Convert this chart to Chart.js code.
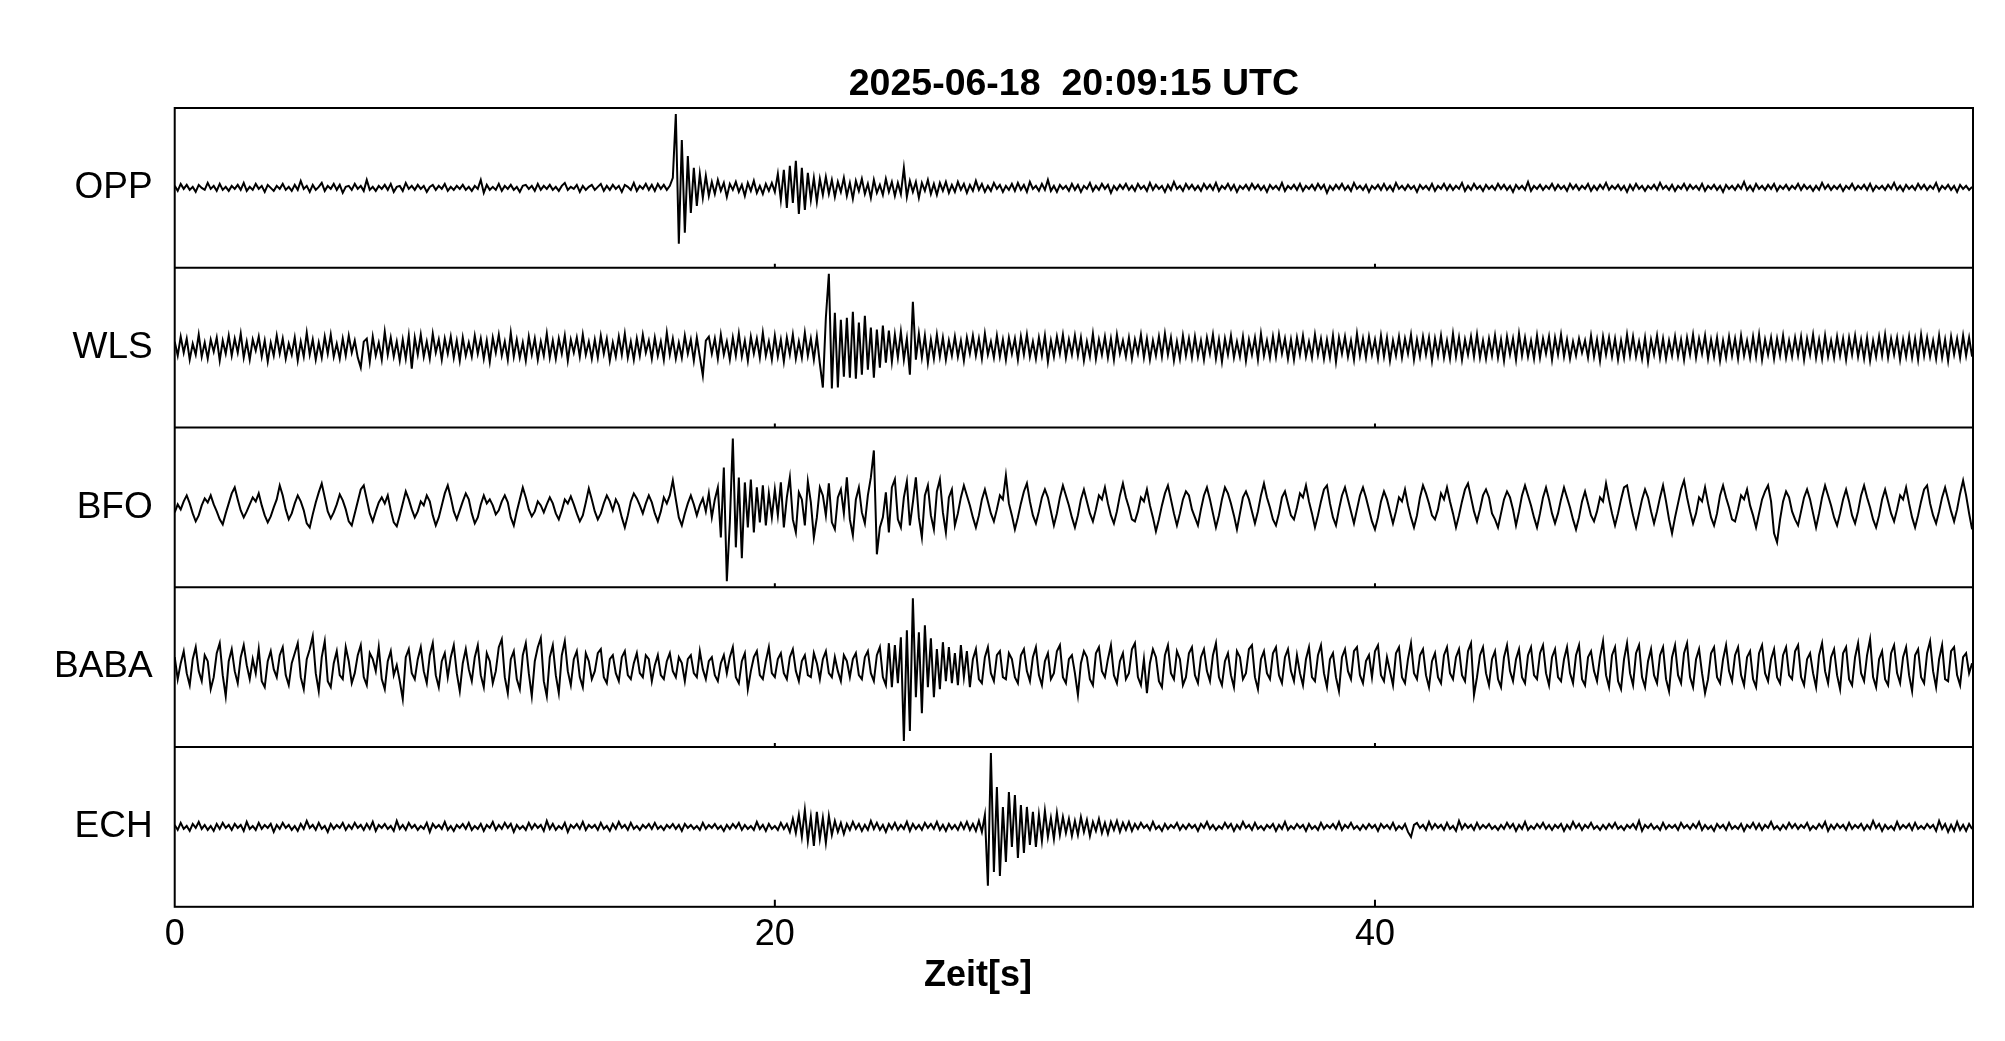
<!DOCTYPE html>
<html lang="de">
<head>
  <meta charset="UTF-8">
  <title>Seismogramm 2025-06-18</title>
  <script src="https://cdn.jsdelivr.net/npm/chart.js"></script>
  <style>
    body { margin: 0; background: #fff; }
    .grafico { position: relative; width: 2005px; height: 1041px; }
  </style>
</head>
<body>
  <div class="grafico">
    <canvas id="seismogramm"></canvas>
  </div>

<script>
  const titel = '2025-06-18  20:09:15 UTC';
  const achsenTitel = 'Zeit[s]';
  const stationen = ['OPP', 'WLS', 'BFO', 'BABA', 'ECH'];
  const zeitTicks = [0, 20, 40];
  const zeitEnde = 59.93;   // rechter Rand der Spuren in s
  const dt = 0.1;           // Abstand der Stuetzpunkte in s

  // Ausschlag jeder Spur (eine Zeile = 2 s)
  const opp = [
    2,-3,4,-1,3,-2,1,-4,3,0,-2,5,-1,2,-3,4,-2,1,-3,2,
    -1,3,-2,5,-3,1,-2,4,-1,2,-4,3,0,-3,2,-1,4,-2,1,-3,
    3,-2,7,-1,2,-4,3,-2,1,5,-3,2,-1,4,-2,3,-5,1,2,-2,
    4,-1,2,-3,8,-2,1,-3,2,-1,3,-2,4,-4,1,2,-3,5,-1,2,
    -2,3,-1,2,-4,1,3,-2,2,-1,4,-3,1,-2,2,-1,3,-2,1,-3,
    2,-1,8,-5,3,-2,1,-2,4,-3,2,-1,3,-2,1,-4,2,3,-1,2,
    -3,4,-2,2,-1,3,-2,1,-3,2,5,-2,1,-1,3,-4,2,-2,1,3,
    -2,1,4,-3,2,-2,3,-1,2,-4,3,1,-2,5,-3,2,-1,4,-2,3,
    -3,4,-1,3,-2,2,10,74,-56,48,-45,32,-25,20,-18,14,-10,12,-8,6,
    -6,8,-3,5,-9,4,-2,6,-4,3,-8,5,-3,7,-5,2,-6,4,-3,5,
    -4,14,-12,18,-20,22,-15,27,-26,20,-22,15,-12,10,-14,9,-7,11,-6,8,
    -9,6,-4,10,-8,5,-11,7,-3,9,-6,4,-10,8,-5,3,-7,9,-4,6,
    -8,5,-6,20,-9,7,-4,6,-10,5,-3,8,-6,4,-7,5,-3,6,-5,3,
    -4,6,-2,4,-5,3,-3,7,-2,4,-4,2,-3,5,-1,3,-4,2,-2,4,
    -3,5,-2,3,-4,6,-1,2,-3,4,-2,8,-3,2,-4,3,-1,2,-3,4,
    -2,3,-4,2,-1,5,-3,2,-2,4,-1,3,-5,2,-2,3,-1,4,-2,2,
    -3,4,-1,2,-3,5,-2,3,-1,2,-4,3,-2,6,-1,2,-3,4,-1,3,
    -2,2,-3,4,-1,3,-2,5,-3,2,-1,4,-2,3,-4,2,-1,3,-2,4,
    -1,3,-2,2,-4,3,-1,2,-2,5,-3,2,-1,3,-2,4,-3,2,-1,3,
    -2,4,-1,3,-5,2,-2,3,-1,4,-2,2,-3,5,-1,2,-2,3,-4,2,
    -1,3,-2,4,-2,2,-3,5,-1,2,-2,3,-1,2,-4,3,-1,2,-2,4,
    -3,2,-1,4,-2,3,-2,2,-1,5,-3,2,-2,4,-1,2,-3,3,-1,2,
    -2,4,-1,3,-2,2,-4,3,-1,2,-2,6,-3,2,-1,3,-2,2,-1,4,
    -2,3,-1,2,-3,4,-1,3,-2,2,-1,4,-3,2,-2,3,-1,5,-2,2,
    -1,3,-2,2,-4,3,-2,4,-1,2,-3,2,-1,3,-2,5,-1,2,-2,3,
    -3,2,-1,4,-2,3,-1,2,-2,4,-3,2,-1,3,-2,2,-4,3,-1,2,
    -2,3,-1,6,-2,2,-3,4,-1,2,-2,3,-1,4,-3,2,-1,3,-2,2,
    -1,4,-2,3,-1,2,-3,2,-2,5,-1,3,-2,2,-1,3,-3,2,-1,4,
    -2,2,-1,3,-2,4,-3,2,-1,2,-2,3,-1,5,-2,2,-3,3,-1,2,
    -2,4,-1,3,-2,2,-1,5,-3,2,-1,3,-2,2,-4,3,-1,2,-2,1
  ];

  const wls = [
    6,-8,11,-5,9,-12,4,-7,13,-9,5,-11,8,-4,10,-13,7,-6,12,-8,
    9,-5,14,-10,6,-12,8,-3,11,-9,7,-14,5,-8,12,-6,9,-11,4,-7,
    10,-13,6,-9,15,-7,8,-12,5,-10,11,-6,13,-9,4,-11,9,-8,12,-5,
    7,-10,-20,6,9,-14,11,-8,5,-12,16,-7,10,-9,6,-13,8,-11,12,-21,
    10,-7,13,-9,6,-11,14,-5,8,-12,9,-6,11,-10,7,-13,10,-8,5,-9,
    12,-6,9,-11,7,-14,10,-5,13,-8,6,-12,15,-9,8,-10,5,-13,11,-7,
    9,-12,6,-8,14,-10,7,-11,9,-6,12,-13,8,-5,10,-9,13,-7,6,-11,
    8,-10,12,-6,9,-13,5,-9,11,-7,14,-10,6,-12,9,-8,13,-5,7,-11,
    10,-8,6,-12,15,-7,9,-11,5,-10,12,-6,8,-13,10,-9,-28,7,11,-6,
    9,-11,13,-7,6,-12,10,-8,14,-9,7,-13,11,-6,9,-10,15,-8,6,-12,
    12,-9,8,-14,10,-7,13,-11,6,-10,15,-8,9,-12,11,-16,-40,30,74,-41,
    35,-40,28,-29,30,-30,36,-31,25,-27,32,-22,20,-30,18,-20,22,-15,17,-14,
    13,-10,16,-12,9,-27,46,-12,14,-10,12,-15,8,-11,13,-9,10,-12,7,-8,
    11,-9,7,-13,10,-6,12,-8,9,-11,14,-7,6,-10,12,-9,8,-12,10,-6,
    9,-12,11,-7,13,-9,6,-11,10,-8,12,-14,7,-9,11,-6,13,-10,8,-7,
    12,-8,10,-13,6,-9,14,-11,8,-7,11,-10,9,-12,13,-6,7,-9,10,-11,
    8,-6,13,-10,9,-12,7,-8,11,-9,14,-7,10,-13,6,-11,12,-8,9,-10,
    11,-9,7,-12,10,-6,13,-11,8,-14,9,-7,12,-10,6,-9,11,-13,8,-7,
    10,-12,14,-8,7,-10,11,-9,13,-6,9,-11,8,-12,10,-7,12,-9,6,-10,
    13,-7,9,-11,8,-10,12,-14,10,-6,11,-9,7,-12,14,-8,9,-10,11,-7,
    8,-11,12,-9,10,-13,7,-8,11,-10,9,-6,13,-12,8,-9,11,-7,10,-13,
    9,-8,12,-10,7,-11,14,-9,10,-12,8,-7,11,-9,13,-10,7,-11,9,-8,
    12,-10,8,-13,11,-7,9,-12,14,-8,10,-9,7,-11,12,-10,9,-6,11,-12,
    10,-7,13,-9,8,-11,6,-8,9,-5,7,-10,12,-9,8,-13,11,-7,10,-9,
    9,-12,7,-10,13,-8,11,-9,6,-11,10,-14,8,-7,12,-10,9,-11,7,-8,
    11,-9,8,-12,10,-7,13,-10,9,-6,12,-11,8,-9,10,-13,7,-10,11,-8,
    9,-11,12,-8,7,-10,11,-9,13,-12,8,-7,10,-11,9,-8,12,-10,7,-9,
    10,-8,11,-12,9,-7,13,-10,8,-11,12,-9,7,-10,11,-8,9,-12,10,-7,
    12,-9,8,-11,10,-13,7,-9,11,-8,13,-10,9,-7,10,-12,8,-9,11,-10,
    9,-12,13,-8,10,-9,7,-11,12,-10,8,-13,11,-7,9,-10,12,-8,10,-9
  ];

  const bfo = [
    -5,3,-2,6,12,4,-6,-14,-8,2,9,5,12,3,-4,-12,-17,-6,4,14,
    20,8,-3,-10,-4,3,10,6,14,2,-8,-15,-9,0,8,22,12,-2,-12,-6,
    4,12,6,-3,-16,-20,-7,5,15,24,10,-4,-11,-5,3,13,7,-2,-14,-18,
    -6,6,18,22,8,-6,-14,-4,5,10,4,12,-3,-15,-19,-8,4,16,8,-2,
    -10,-4,6,2,12,6,-8,-18,-10,2,14,22,10,-4,-12,-3,6,14,8,-6,
    -16,-10,3,12,4,8,2,-7,-3,6,12,5,-10,-18,-4,8,20,10,-2,-9,
    -4,6,2,-5,3,10,4,-6,-12,-3,8,4,11,3,-6,-14,-8,5,19,8,
    -4,-12,-6,4,12,6,-3,8,2,-10,-20,-8,6,14,9,2,-6,4,12,5,
    -6,-14,-4,10,4,12,27,8,-10,-18,-6,4,12,3,-8,2,9,-4,14,-10,
    8,20,-30,40,-74,-15,69,-40,30,-51,25,-20,28,-25,20,-15,22,-18,14,-10,
    18,-8,25,-20,10,30,-12,-25,15,8,-18,26,5,-30,-10,20,12,-8,24,-15,
    -22,10,18,-6,30,-12,-28,8,20,-5,-16,12,30,57,-47,-20,-10,15,-25,20,
    28,-12,-20,10,26,-18,5,30,-10,-30,12,22,-8,-22,16,28,-5,-25,10,18,
    -18,-6,10,22,12,2,-10,-20,-8,8,18,6,-6,-14,-2,12,8,32,4,-8,
    -22,-10,4,16,24,6,-8,-16,-4,10,18,10,-4,-18,-6,10,22,12,2,-10,
    -20,-8,8,18,6,-6,-14,-2,12,8,20,4,-8,-16,-4,12,24,10,0,-12,
    -14,-4,10,6,18,2,-10,-24,-12,2,14,22,8,-6,-18,-6,8,16,12,-2,
    -10,-18,-2,12,20,8,-6,-20,-8,8,20,14,4,-8,-22,-6,10,16,8,-4,
    -16,-4,12,24,10,0,-12,-18,-6,10,16,4,-8,-12,0,14,10,22,6,-6,
    -20,-8,6,18,22,4,-10,-18,-2,12,20,8,-4,-16,-2,12,20,10,-2,-14,
    -22,-10,6,16,8,-4,-16,-4,10,6,18,2,-10,-20,-8,10,22,14,4,-8,
    -12,-2,14,8,20,6,-6,-20,-8,6,18,24,10,-4,-14,-2,12,18,10,-6,
    -12,-20,-6,8,16,10,-2,-18,-4,12,22,12,2,-10,-20,-6,10,20,8,-6,
    -16,-6,8,20,10,0,-12,-22,-10,6,16,4,-8,-14,-4,10,6,24,8,-6,
    -18,-6,8,20,22,6,-8,-20,-6,8,18,10,-4,-16,-4,10,22,6,-12,-26,
    -10,4,18,27,10,-4,-16,-6,10,6,20,4,-10,-18,-6,12,22,10,0,-12,
    -14,-2,12,8,18,2,-8,-20,-6,8,16,22,6,-26,-35,-12,6,16,10,-4,
    -12,-18,-4,10,18,8,-6,-20,-6,10,22,12,2,-10,-18,-6,8,18,6,-8,
    -16,-4,12,22,10,0,-12,-20,-8,8,18,6,-6,-14,-2,12,8,20,4,-10,
    -20,-8,6,18,22,4,-8,-16,-4,10,20,8,-4,-14,-2,14,27,12,-6,-22
  ];

  const baba = [
    10,-12,4,16,-6,-18,8,20,-4,-14,12,6,-22,-10,14,24,-8,-29,6,18,
    -4,-16,10,22,2,-12,8,-6,18,-14,-20,6,16,-2,-10,12,20,-8,-18,4,
    14,24,-10,-22,8,18,31,-6,-24,10,26,-14,-20,4,16,-8,-12,20,6,-16,
    -6,12,22,-10,-18,14,8,-4,20,-12,-22,6,16,-8,2,-14,-32,10,18,-6,
    -12,8,20,-4,-16,12,24,-8,-20,6,14,-10,10,22,-6,-24,4,18,-2,-14,
    10,22,-8,-20,14,6,-16,-4,20,28,-10,-26,8,16,-12,-22,12,24,-6,-29,
    6,20,29,-14,-29,10,22,-8,-26,12,26,-4,-18,8,16,-10,-20,14,6,-12,
    -4,14,18,-10,-16,8,12,-6,-14,10,16,-8,-12,4,14,-6,-10,12,8,-14,
    2,12,-8,-12,6,14,-4,-10,10,4,-14,8,12,-6,-10,16,-2,-12,6,10,
    -8,-14,4,12,-6,10,20,-10,-16,6,14,-22,-4,10,16,-8,-12,6,20,-6,
    -10,8,14,-6,-12,10,18,-4,-14,6,12,-8,-10,14,4,-12,8,16,-6,-10,
    10,-4,-14,12,6,-10,8,14,-8,-12,10,16,-6,-14,12,20,-10,-18,24,-20,
    22,-16,30,-74,37,-64,69,-30,35,-46,42,-20,29,-30,18,-22,25,-14,20,-16,
    14,-18,22,-10,16,-20,8,18,-12,-16,10,20,-6,-14,12,16,-10,-12,14,8,
    -10,-16,12,18,-4,-14,10,20,-8,-18,6,14,-12,-6,16,22,-10,-16,8,12,
    -6,-28,4,16,10,-12,-18,14,20,-4,-10,8,22,-8,-16,6,14,-12,-6,18,
    24,-10,-18,8,-26,4,18,10,-14,-20,12,22,-6,-12,16,8,-18,-10,14,20,
    -8,-16,10,18,-4,-14,12,24,-10,-18,6,14,-8,-20,16,10,-12,-6,18,22,
    -10,-22,8,16,-6,-12,14,20,-8,-16,10,18,-4,-14,12,-6,-18,8,20,-10,
    -14,12,22,-6,-20,8,14,-10,-24,10,18,-4,-12,16,20,-8,-16,6,12,-10,
    16,22,-8,-14,10,-4,-18,14,20,-10,-16,8,24,-6,-12,12,18,-8,-20,6,
    14,-10,-16,12,20,-6,-12,10,18,-8,-14,16,24,-28,-10,12,20,-6,-18,8,
    16,-12,-20,10,22,-4,-14,8,18,-10,-16,12,20,-8,-12,14,22,-6,-18,10,
    18,-10,-14,8,20,-6,-16,12,22,-12,-18,10,16,-4,-14,10,26,-8,-20,12,
    20,-14,-22,8,24,-6,-18,14,22,-10,-20,6,18,-8,-16,12,20,-12,-24,10,
    22,-8,-16,14,24,-10,-20,8,18,-6,-26,-12,14,20,-10,-16,8,22,-4,-14,
    12,20,-8,-18,10,16,-12,-20,14,22,-6,-14,8,18,-10,-16,12,20,-8,-12,
    16,22,-10,-18,8,14,-6,-20,12,24,-4,-16,10,18,-8,-22,14,20,-12,-18,
    10,24,-6,-14,12,28,-10,-20,8,16,-12,-18,14,22,-6,-16,10,20,-8,-24,
    12,18,-10,-16,14,26,-4,-20,8,22,-12,-14,16,20,-8,-18,10,14,-6,4
  ];

  const ech = [
    2,-3,4,-2,1,-4,3,-1,5,-2,2,-3,1,-4,3,-2,4,-1,2,-3,
    3,-1,2,-4,5,-2,1,-3,4,-2,2,-1,3,-5,2,-2,4,-1,2,-3,
    1,-4,3,-2,6,-1,2,-3,4,-2,1,-5,3,-2,2,-1,4,-3,2,-2,
    4,-1,2,-3,3,-2,5,-4,2,-1,3,-2,1,-4,6,-2,2,-3,4,-1,
    2,-3,1,-2,4,-5,3,-1,2,-2,5,-3,1,-4,2,-1,3,-2,4,-3,
    1,-2,3,-4,2,-1,5,-3,2,-2,4,-1,3,-5,2,-2,1,-3,4,-2,
    3,-1,2,-4,6,-2,3,-3,1,-2,4,-5,2,-1,3,-2,5,-3,2,-1,
    2,-3,4,-2,1,-4,3,-2,5,-1,2,-3,4,-2,1,-3,2,-1,3,-2,
    4,-2,1,-3,2,-1,3,-2,2,-4,3,-1,2,-2,1,-3,4,-2,2,-1,
    3,-2,1,-4,2,-2,3,-1,4,-3,2,-2,1,-3,5,-2,2,-4,3,-2,
    1,-3,4,-2,3,-5,8,-6,12,-10,17,-14,10,-19,15,-12,9,-16,11,-8,
    6,-5,4,-7,3,-3,5,-2,3,-4,2,-3,6,-2,4,-3,2,-5,3,-2,
    4,-3,2,-2,5,-4,3,-2,2,-3,4,-1,3,-2,5,-3,2,-4,3,-2,
    2,-3,4,-2,5,-3,3,-4,6,-5,12,-59,74,-45,40,-49,20,-35,35,-20,
    32,-31,22,-26,20,-18,15,-20,12,-14,16,-10,9,-12,14,-8,10,-6,8,-9,
    6,-8,10,-5,7,-9,5,-4,8,-6,4,-7,5,-3,6,-5,4,-3,5,-4,
    3,-2,4,-1,2,-3,5,-2,1,-4,3,-2,2,-1,4,-3,2,-2,3,-1,
    2,-4,3,-1,5,-2,2,-3,1,-2,4,-1,3,-4,2,-2,5,-1,2,-3,
    4,-2,1,-3,2,-1,3,-4,2,-2,5,-3,1,-2,3,-1,2,-4,3,-2,
    1,-3,4,-2,2,-1,3,-2,5,-3,2,-1,4,-2,1,-3,2,-2,3,-1,
    2,-4,3,-1,2,-2,4,-3,1,-2,3,-5,-10,2,4,-1,2,-3,5,-2,
    3,-1,2,-3,4,-2,1,-4,6,-2,3,-1,2,-3,4,-2,2,-1,3,-2,
    1,-3,2,-2,4,-1,3,-4,2,-2,5,-3,1,-2,3,-1,4,-2,2,-3,
    2,-1,3,-4,2,-2,5,-1,3,-3,2,-1,4,-2,1,-3,2,-2,3,-1,
    4,-2,1,-3,2,-1,3,-2,6,-4,2,-1,3,-2,1,-3,4,-2,2,-1,
    2,-3,4,-1,2,-2,3,-1,5,-3,2,-2,1,-4,3,-1,2,-3,4,-2,
    1,-2,3,-4,2,-1,4,-2,3,-3,2,-1,5,-2,1,-3,2,-2,4,-1,
    3,-2,2,-1,4,-3,1,-2,3,-1,5,-4,2,-2,3,-1,2,-3,4,-2,
    2,-1,3,-3,2,-2,6,-1,3,-4,2,-2,1,-3,5,-2,2,-1,3,-3,
    4,-2,1,-2,3,-1,2,-4,6,-2,3,-5,2,-4,5,-3,2,-4,3,-2
  ];

  const spuren = [opp, wls, bfo, baba, ech];

  // jede Spur bekommt ein eigenes Band von 160 Einheiten, OPP oben
  const panelHoehe = 160;
  const yMax = panelHoehe * stationen.length;
  const mitte = stationen.map((s, k) => yMax - panelHoehe * k - panelHoehe / 2);

  const schrift = '"Liberation Sans", Arial, Helvetica, sans-serif';
  Chart.defaults.font.family = schrift;
  Chart.defaults.color = '#000';

  let datasets = [];
  for (let k = 0; k < spuren.length; k++) {
    datasets.push({
      label: stationen[k],
      data: spuren[k].map((v, i) => ({ x: i * dt, y: v + mitte[k] })),
      borderColor: '#000',
      borderWidth: 2,
      pointRadius: 0,
      tension: 0,
      fill: false
    });
  }

  // Rahmen, Trennlinien, kleine Zeitstriche und Achsentitel
  const rahmen = {
    id: 'rahmen',
    afterDatasetsDraw(chart) {
      const { ctx, chartArea: a, scales: { x, y } } = chart;
      ctx.save();
      ctx.strokeStyle = '#000';
      ctx.lineWidth = 2;
      ctx.strokeRect(a.left, a.top, a.right - a.left, a.bottom - a.top);

      ctx.beginPath();
      for (let k = 1; k < stationen.length; k++) {
        const py = y.getPixelForValue(k * panelHoehe);
        ctx.moveTo(a.left, py);
        ctx.lineTo(a.right, py);
      }
      zeitTicks.forEach(t => {
        if (t === 0) return;
        const px = x.getPixelForValue(t);
        for (let k = 0; k < stationen.length; k++) {
          const py = y.getPixelForValue(k * panelHoehe);
          ctx.moveTo(px, py);
          ctx.lineTo(px, py - (k === 0 ? 7 : 4));
        }
      });
      ctx.stroke();

      ctx.fillStyle = '#000';
      ctx.font = 'bold 36px ' + schrift;
      ctx.textAlign = 'center';
      ctx.textBaseline = 'alphabetic';
      ctx.fillText(achsenTitel, 978, 986);
      ctx.restore();
    }
  };

  new Chart(document.getElementById('seismogramm'), {
    type: 'line',
    data: { datasets: datasets },
    plugins: [rahmen],
    options: {
      responsive: true,
      maintainAspectRatio: false,
      animation: false,
      layout: { padding: { left: 32, right: 32, top: 0, bottom: 77 } },
      plugins: {
        legend: { display: false },
        tooltip: { enabled: false },
        title: {
          display: true,
          text: titel,
          fullSize: false,
          color: '#000',
          font: { size: 37.5, weight: 'bold' },
          padding: { top: 62, bottom: 1 }
        }
      },
      scales: {
        x: {
          type: 'linear',
          min: 0,
          max: zeitEnde,
          afterBuildTicks: (s) => { s.ticks = zeitTicks.map(v => ({ value: v })); },
          ticks: { font: { size: 36 }, color: '#000', padding: 7, maxRotation: 0 },
          grid: { display: false, drawTicks: false },
          border: { display: false }
        },
        y: {
          min: 0,
          max: yMax,
          afterBuildTicks: (s) => { s.ticks = mitte.map(v => ({ value: v })); },
          ticks: {
            font: { size: 37 },
            color: '#000',
            padding: 22,
            callback: (v) => stationen[mitte.indexOf(v)]
          },
          grid: { display: false, drawTicks: false },
          border: { display: false }
        }
      }
    }
  });
</script>
</body>
</html>
